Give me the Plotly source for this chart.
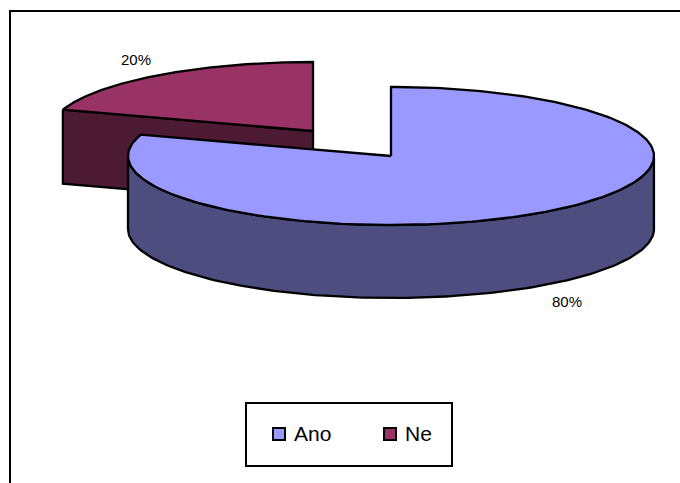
import numpy as np
import plotly.graph_objects as go

W, H = 680, 483
categories = ["Ano", "Ne"]
values = [80, 20]
top_colors = ["#9999FF", "#993366"]
side_colors = ["#4D4D80", "#4D1A33"]
labels = ["80%", "20%"]

# pie layout in pixels
centres = [(391, 156), (313, 131)]
depths = [73, 74]
RX, RY = 263, 69
LW = 2.3

total = sum(values)
fracs = [v / total for v in values]
starts = [0.0, fracs[0] * 2 * np.pi]
ends = [fracs[0] * 2 * np.pi, 2 * np.pi]


def ell(c, t):
    return c[0] + RX * np.sin(t), c[1] - RY * np.cos(t)


fig = go.Figure()


def poly(x, y, color):
    fig.add_trace(go.Scatter(x=list(x), y=list(y), mode="lines", fill="toself", fillcolor=color,
                             line=dict(color="black", width=LW), hoverinfo="skip", showlegend=False))


def draw(i):
    c = centres[i]
    d = depths[i]
    a, b = starts[i], ends[i]
    t = np.linspace(a, b, 241)
    ex, ey = ell(c, t)
    if i == 1:
        sx, sy = ell(c, a)
        poly([sx, c[0], c[0], sx, sx], [sy, c[1], c[1] + d, sy + d, sy], side_colors[i])
    else:
        front = t[(t >= np.pi / 2) & (t <= 1.5 * np.pi)]
        fx, fy = ell(c, front)
        poly(np.r_[fx, fx[::-1], fx[0]], np.r_[fy, fy[::-1] + d, fy[0]], side_colors[i])
    poly(np.r_[c[0], ex, c[0]], np.r_[c[1], ey, c[1]], top_colors[i])


draw(1)
draw(0)

# frame (runs off the right and bottom of the picture)
fig.add_shape(type="rect", x0=10, y0=11, x1=W + 10, y1=H + 10, line=dict(color="black", width=2), layer="below")

# legend
fig.add_shape(type="rect", x0=246, y0=403, x1=452, y1=466, line=dict(color="black", width=2),
              fillcolor="white", layer="below")
legend_x = [279, 390]
for name, col, lx in zip(categories, top_colors, legend_x):
    fig.add_trace(go.Scatter(x=[lx], y=[434], mode="markers", hoverinfo="skip", showlegend=False,
                             marker=dict(symbol="square", size=12, color=col, line=dict(color="black", width=2))))
    fig.add_annotation(x=lx + 13, y=433, text=name, showarrow=False, xanchor="left", yanchor="middle",
                       font=dict(size=21, color="black"))

fig.add_annotation(x=567, y=301, text=labels[0], showarrow=False, font=dict(size=15, color="black"))
fig.add_annotation(x=136, y=59, text=labels[1], showarrow=False, font=dict(size=15, color="black"))

fig.update_layout(
    width=W, height=H, margin=dict(l=0, r=0, t=0, b=0), autosize=False,
    paper_bgcolor="white", plot_bgcolor="white", showlegend=False,
    font=dict(family="Liberation Sans, Arial, sans-serif", color="black"),
    xaxis=dict(range=[0, W], visible=False, domain=[0, 1], fixedrange=True),
    yaxis=dict(range=[H, 0], visible=False, domain=[0, 1], fixedrange=True),
)
fig.write_html("out.html", config={"displayModeBar": False},
               post_script="document.body.style.margin='0';document.documentElement.style.overflow='hidden';")
